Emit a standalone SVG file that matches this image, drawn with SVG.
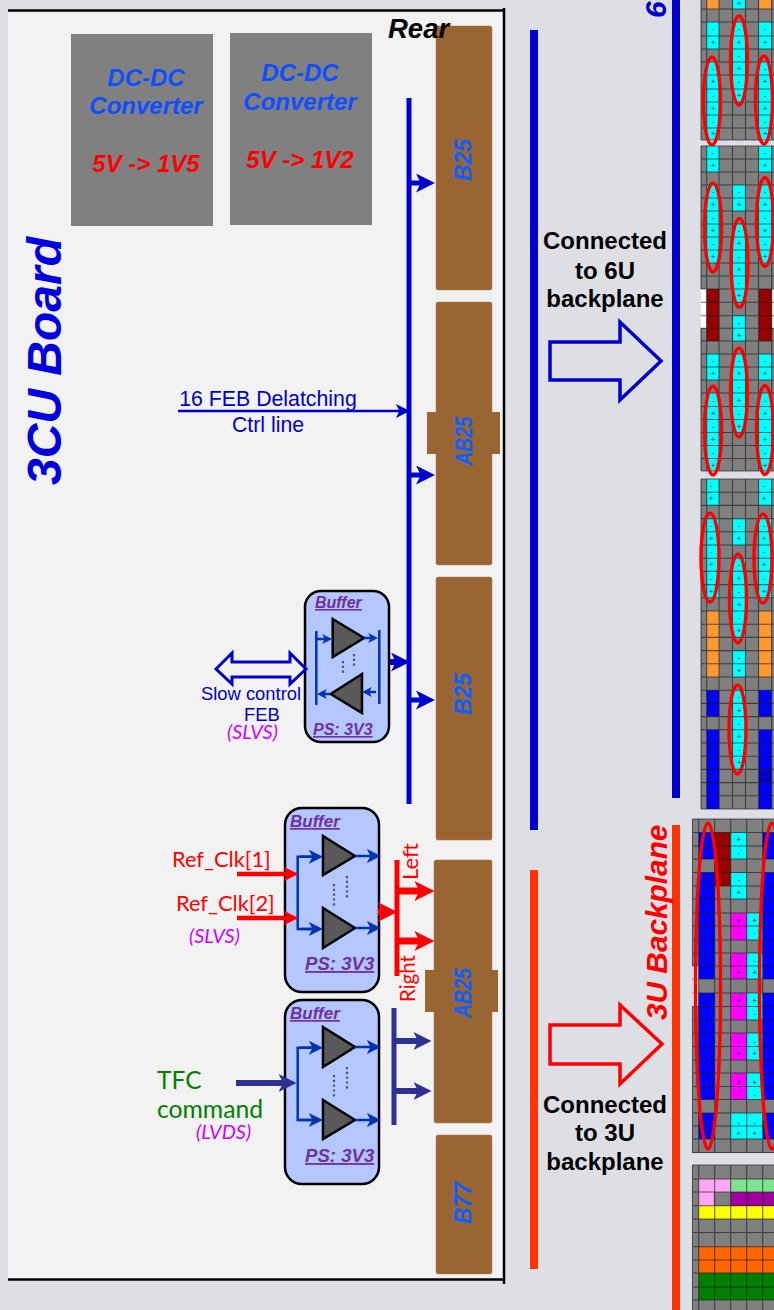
<svg xmlns="http://www.w3.org/2000/svg" width="774" height="1310" viewBox="0 0 774 1310">
<style>
text{font-family:"Liberation Sans",Arial,sans-serif}
.bi{font-weight:bold;font-style:italic}
.conv{fill:#0f4fff;font-size:24px;text-anchor:middle}
.volt{fill:#ff0000;font-size:24px;text-anchor:middle}
.conn{fill:#996633;stroke:#a87a4a;stroke-width:.5}
.cl{fill:#0f5fff;font-size:23px;text-anchor:middle}
.conv-box{fill:#808080}
.buf{fill:#b4c7ff;stroke:#000;stroke-width:2.5}
.bt{fill:#7030a0;font-size:16px;text-decoration:underline}
.bt2{fill:#7030a0;font-size:17px;text-decoration:underline}
.ps{fill:#7030a0;font-size:16px;text-decoration:underline}
.ps2{fill:#7030a0;font-size:18.600px;text-decoration:underline}
.tri{fill:#595959;stroke:#000;stroke-width:2.5;stroke-linejoin:miter}
.dots{stroke:#555;stroke-width:2.2;stroke-dasharray:2.2 2.6;fill:none}
.sig{stroke:#0033b0;stroke-width:2.5;fill:none}
.bl{stroke:#0000cc;stroke-width:5;fill:none}
.rd{stroke:#ff0000;fill:none}
.nv{stroke:#2e3192;fill:none}
.cal{font-family:Lato,"Liberation Sans",sans-serif}
.sl{font-family:Lato,"Liberation Sans",sans-serif;font-style:italic;fill:#cc00ff;font-size:20px}
.big{font-weight:bold;font-size:24px;text-anchor:middle;fill:#000}
.grid{stroke:#1a1a1a;stroke-opacity:.65;stroke-width:1.1;fill:none}
.oval{fill:none;stroke:#ff0000;stroke-width:3.4}
.c{fill:#00ffff}.o{fill:#ff9933}.b{fill:#0000ff}.r{fill:#990000}.m{fill:#ff00ff}
.s{font-size:8px;fill:#123;text-anchor:middle}
</style>
<defs>
<marker id="bb" viewBox="0 0 10 10" refX="5.8" refY="5" markerWidth="19" markerHeight="19" markerUnits="userSpaceOnUse" orient="auto"><path d="M0 0L10 5L0 10L2.5 5Z" fill="#0000cc"/></marker>
<marker id="bm" viewBox="0 0 10 10" refX="5.8" refY="5" markerWidth="14" markerHeight="14" markerUnits="userSpaceOnUse" orient="auto"><path d="M0 0L10 5L0 10L2.5 5Z" fill="#0000cc"/></marker>
<marker id="rb" viewBox="0 0 10 10" refX="5.8" refY="5" markerWidth="20" markerHeight="20" markerUnits="userSpaceOnUse" orient="auto"><path d="M0 0L10 5L0 10L2.5 5Z" fill="#ff0000"/></marker>
<marker id="rm" viewBox="0 0 10 10" refX="5.8" refY="5" markerWidth="15" markerHeight="15" markerUnits="userSpaceOnUse" orient="auto"><path d="M0 0L10 5L0 10L2.5 5Z" fill="#ff0000"/></marker>
<marker id="nb" viewBox="0 0 10 10" refX="5.8" refY="5" markerWidth="18" markerHeight="18" markerUnits="userSpaceOnUse" orient="auto"><path d="M0 0L10 5L0 10L2.5 5Z" fill="#2e3192"/></marker>
<marker id="sm" viewBox="0 0 10 10" refX="5.8" refY="5" markerWidth="14" markerHeight="14" markerUnits="userSpaceOnUse" orient="auto"><path d="M0 0L10 5L0 10L2.5 5Z" fill="#0033b0"/></marker>
<marker id="ss" viewBox="0 0 10 10" refX="5.8" refY="5" markerWidth="10" markerHeight="10" markerUnits="userSpaceOnUse" orient="auto"><path d="M0 0L10 5L0 10L2.5 5Z" fill="#0033b0"/></marker>
</defs>

<rect id="background" width="774" height="1310" fill="#dedfe4"/>
<g id="board">
<rect x="8" y="11" width="495" height="1268" fill="#f2f2f2"/>
<path d="M8 10.5H503.500M504 8V1284M8 1279.500H504" fill="none" stroke="#000" stroke-width="2.5"/>
<text class="bi" transform="translate(61 485) rotate(-90)" font-size="48" fill="#0000e0">3CU Board</text>
</g>

<g id="connector-b25-1"><rect class="conn" x="436" y="26" width="56" height="264" rx="2"/><text class="bi cl" transform="translate(471 160) rotate(-90)">B25</text></g>
<g id="connector-ab25-1"><rect class="conn" x="436" y="302" width="56" height="263" rx="2"/><rect x="427" y="412" width="73" height="42" fill="#996633"/><text class="bi cl" transform="translate(472 441) rotate(-90)" textLength="49" lengthAdjust="spacingAndGlyphs">AB25</text></g>
<g id="connector-b25-2"><rect class="conn" x="436" y="577" width="56" height="263" rx="2"/><text class="bi cl" transform="translate(471 694) rotate(-90)">B25</text></g>
<g id="connector-ab25-2"><rect class="conn" x="434" y="860" width="58" height="263" rx="2"/><rect x="425" y="970" width="73" height="42" fill="#996633"/><text class="bi cl" transform="translate(471 993) rotate(-90)" textLength="50" lengthAdjust="spacingAndGlyphs">AB25</text></g>
<g id="connector-b77"><rect class="conn" x="436" y="1135" width="56" height="139" rx="2"/><text class="bi cl" transform="translate(471 1203) rotate(-90)">B77</text></g>
<text id="rear-label" class="bi" x="388" y="38" font-size="27.500" fill="#000">Rear</text>

<g id="dcdc-1"><rect class="conv-box" x="71" y="34" width="142" height="192"/><text class="bi conv" x="146" y="86">DC-DC</text><text class="bi conv" x="146" y="114">Converter</text><text class="bi volt" x="146" y="172">5V -&gt; 1V5</text></g>
<g id="dcdc-2"><rect class="conv-box" x="230" y="33" width="142" height="192"/><text class="bi conv" x="300" y="81">DC-DC</text><text class="bi conv" x="300" y="110">Converter</text><text class="bi volt" x="300" y="168">5V -&gt; 1V2</text></g>

<g id="buffer-slow">
<rect class="buf" x="305" y="591" width="84" height="151" rx="16"/>
<text class="bi bt" x="315" y="608">Buffer</text>
<text class="bi ps" x="313" y="735">PS: 3V3</text>
<path class="tri" d="M332.700 619L364 638L332.700 657Z"/>
<path class="tri" d="M362 674L330.700 694L362 713Z"/>
<path class="dots" d="M343 661V673M354 654V667"/>
<path class="sig" d="M316.300 631V705M379.300 630V704"/>
<line class="sig" x1="317" y1="639" x2="328" y2="639" marker-end="url(#ss)"/>
<line class="sig" x1="364" y1="638" x2="374" y2="638" marker-end="url(#ss)"/>
<line class="sig" x1="376" y1="692" x2="366" y2="692" marker-end="url(#ss)"/>
<line class="sig" x1="330" y1="694" x2="321" y2="694" marker-end="url(#ss)"/>
</g>
<g id="buffer-refclk">
<rect class="buf" x="285" y="808" width="94" height="184" rx="17"/>
<text class="bi bt2" x="290" y="827">Buffer</text>
<text class="bi ps2" x="305" y="970">PS: 3V3</text>
<path class="tri" d="M323 836L355 856L323 875Z"/>
<path class="tri" d="M323 908L355 928L323 948Z"/>
<path class="dots" d="M334 884V906M347 876V898"/>
<path class="sig" d="M317 856.700H297.700V929H317"/>
<line class="sig" x1="300" y1="856.700" x2="317" y2="856.700" marker-end="url(#sm)"/>
<line class="sig" x1="300" y1="929" x2="317" y2="929" marker-end="url(#sm)"/>
<line class="sig" x1="355" y1="856" x2="375" y2="856" marker-end="url(#sm)"/>
<line class="sig" x1="355" y1="928" x2="375" y2="928" marker-end="url(#sm)"/>
</g>
<g id="buffer-tfc">
<rect class="buf" x="285" y="1000" width="94" height="184" rx="17"/>
<text class="bi bt2" x="290" y="1019">Buffer</text>
<text class="bi ps2" x="305" y="1162">PS: 3V3</text>
<path class="tri" d="M323 1027L355 1047L323 1067Z"/>
<path class="tri" d="M323 1100L355 1120L323 1139Z"/>
<path class="dots" d="M334 1075V1097M347 1067V1089"/>
<path class="sig" d="M317 1047.700H297.700V1120H317"/>
<line class="sig" x1="300" y1="1047.700" x2="317" y2="1047.700" marker-end="url(#sm)"/>
<line class="sig" x1="300" y1="1120" x2="317" y2="1120" marker-end="url(#sm)"/>
<line class="sig" x1="355" y1="1047" x2="375" y2="1047" marker-end="url(#sm)"/>
<line class="sig" x1="355" y1="1120" x2="375" y2="1120" marker-end="url(#sm)"/>
</g>

<g id="connectors">
<line class="bl" x1="409" y1="98" x2="409" y2="804"/>
<line class="bl" x1="409" y1="183" x2="427" y2="183" marker-end="url(#bb)"/>
<line class="bl" x1="409" y1="475" x2="427" y2="475" marker-end="url(#bb)"/>
<line class="bl" x1="409" y1="700" x2="427" y2="700" marker-end="url(#bb)"/>
<line class="bl" style="stroke-width:6" x1="390" y1="662" x2="402" y2="662" marker-end="url(#bb)"/>
<line x1="178" y1="411" x2="404" y2="411" stroke="#0000cc" stroke-width="2.500" marker-end="url(#bm)"/>
<path d="M216 669L232 653V662H290V653L306 669L290 684V677H232V684Z" fill="none" stroke="#0000cc" stroke-width="3"/>
<line class="rd" stroke-width="4.500" x1="237" y1="874" x2="292" y2="874" marker-end="url(#rm)"/>
<line class="rd" stroke-width="4.500" x1="237" y1="918" x2="292" y2="918" marker-end="url(#rm)"/>
<line class="rd" stroke-width="7" x1="378" y1="912" x2="389" y2="912" marker-end="url(#rb)"/>
<line class="rd" stroke-width="5" x1="397" y1="860" x2="397" y2="976"/>
<line class="rd" stroke-width="7" x1="397" y1="891" x2="426" y2="891" marker-end="url(#rb)"/>
<line class="rd" stroke-width="7" x1="397" y1="941" x2="426" y2="941" marker-end="url(#rb)"/>
<line class="nv" stroke-width="6" x1="236" y1="1083" x2="289" y2="1083" marker-end="url(#nb)"/>
<line class="nv" stroke-width="5" x1="394" y1="1008" x2="394" y2="1125"/>
<line class="nv" stroke-width="6" x1="394" y1="1041" x2="424" y2="1041" marker-end="url(#nb)"/>
<line class="nv" stroke-width="6" x1="394" y1="1091" x2="424" y2="1091" marker-end="url(#nb)"/>
<rect x="530" y="30" width="8" height="800" fill="#0000cc"/>
<rect x="530" y="870" width="8" height="399" fill="#ff3300"/>
<rect x="672" y="0" width="8" height="798" fill="#0000cc"/>
<rect x="672" y="825" width="8" height="485" fill="#ff3300"/>
<path d="M550 342H620V322L661 361L620 400V380H550Z" fill="none" stroke="#0000cc" stroke-width="3.500"/>
<path d="M550 1025H620V1005L662 1044L620 1084V1064H550Z" fill="none" stroke="#ff0000" stroke-width="3.500"/>
</g>

<g id="labels">
<text x="268" y="406" font-size="21.300" fill="#0000cc" text-anchor="middle">16 FEB Delatching</text>
<text x="268" y="432" font-size="21.300" fill="#0000cc" text-anchor="middle">Ctrl line</text>
<text x="251" y="700" font-size="18.400" fill="#0000cc" text-anchor="middle">Slow control</text>
<text x="262" y="721" font-size="18.400" fill="#0000cc" text-anchor="middle">FEB</text>
<text class="sl" x="227" y="739">(SLVS)</text>
<text class="cal" x="172" y="867" font-size="21.800" fill="#ff0000">Ref_Clk[1]</text>
<text class="cal" x="176" y="911" font-size="21.800" fill="#ff0000">Ref_Clk[2]</text>
<text class="sl" x="189" y="943">(SLVS)</text>
<text class="cal" transform="translate(418 880) rotate(-90)" font-size="22" fill="#ff0000">Left</text>
<text class="cal" transform="translate(415 1002) rotate(-90)" font-size="20.500" fill="#ff0000">Right</text>
<text class="cal" x="157" y="1089" font-size="24.500" fill="#008000">TFC</text>
<text class="cal" x="157" y="1118" font-size="24.700" fill="#008000">command</text>
<text class="sl" x="196" y="1139">(LVDS)</text>
<text class="big" x="605" y="249">Connected</text>
<text class="big" x="605" y="279">to 6U</text>
<text class="big" x="605" y="307">backplane</text>
<text class="big" x="605" y="1113">Connected</text>
<text class="big" x="605" y="1141">to 3U</text>
<text class="big" x="605" y="1170">backplane</text>
<text class="bi" transform="translate(666 18) rotate(-90)" font-size="30" fill="#0000cc">6</text>
<text class="bi" transform="translate(667 1020) rotate(-90)" font-size="29.800" fill="#ff0000">3U Backplane</text>
</g>

<g id="panel-6u-a">
<rect x="701" y="0" width="73" height="140" fill="#808080"/>
<rect class="o" x="706.700" y="0" width="12.500" height="9"/><rect class="o" x="759" y="0" width="12.700" height="9"/>
<path class="c" d="M706.700 22h12.500v27h-12.500zM706.700 62h12.500v78h-12.500zM759 22h12.700v27h-12.700zM759 62h12.700v78h-12.700zM733 0h12.500v9h-12.500zM733 22h12.500v80h-12.500z"/>
<path class="grid" d="M701 9H774M701 22H774M701 36H774M701 49H774M701 62H774M701 75H774M701 89H774M701 102H774M701 115H774M701 128H774M701 140H774M701 0V140M706.700 0V140M719 0V140M732.500 0V140M745.500 0V140M758.500 0V140M771.700 0V140"/>
<text class="s" x="713 713 713 713 713 713 713 713" y="31 44.500 70.500 84 97.500 110.500 123.500 136">-+-+-+-+</text>
<text class="s" x="739 739 739 739 739 739 739" y="6 31 44.500 57.500 70.500 84 97.500">+-+-+-+</text>
<text class="s" x="765 765 765 765 765 765 765 765" y="31 44.500 70.500 84 97.500 110.500 123.500 136">-+-+-+-+</text>
<ellipse class="oval" cx="712" cy="101" rx="8.500" ry="44"/><ellipse class="oval" cx="739" cy="60.500" rx="8.500" ry="44.500"/><ellipse class="oval" cx="764" cy="100" rx="8.500" ry="44"/>
</g>

<g id="panel-6u-b">
<rect x="701" y="146" width="73" height="325" fill="#808080"/>
<rect x="701" y="289" width="5.700" height="39" fill="#fff"/><rect x="771.700" y="289" width="2.300" height="39" fill="#fff"/>
<path class="r" d="M706.700 289h12.500v52h-12.500zM759 289h12.700v52h-12.700z"/>
<path class="c" d="M706.700 146h12.500v26h-12.500zM706.700 185h12.500v78h-12.500zM706.700 354h12.500v26h-12.500zM706.700 393h12.500v78h-12.500zM759 146h12.700v26h-12.700zM759 185h12.700v78h-12.700zM759 354h12.700v26h-12.700zM759 393h12.700v78h-12.700zM733 185h12.500v26h-12.500zM733 224h12.500v78h-12.500zM733 316h12.500v25h-12.500zM733 354h12.500v79h-12.500z"/>
<path class="grid" d="M701 146H774M701 159H774M701 172H774M701 185H774M701 198H774M701 211H774M701 224H774M701 237H774M701 250H774M701 263H774M701 276H774M701 289H774M701 302.300H774M701 315.700H774M701 328.300H774M701 341H774M701 354H774M701 367H774M701 380H774M701 393H774M701 406.500H774M701 419.500H774M701 432.500H774M701 445.500H774M701 458.500H774M701 471H774M701 146V289M701 328V471M706.700 146V471M719 146V471M732.500 146V471M745.500 146V471M758.500 146V471M771.700 146V471"/>
<text class="s" x="713 713 713 713 713 713 713 713 713 713 713 713 713 713 713 713" y="155 168 194 207 220 233 246 259 363 376 402.500 415.500 428.500 441.500 454.500 467.500">-+-+-+-+-+-+-+-+</text>
<text class="s" x="765 765 765 765 765 765 765 765 765 765 765 765 765 765 765 765" y="155 168 194 207 220 233 246 259 363 376 402.500 415.500 428.500 441.500 454.500 467.500">-+-+-+-+-+-+-+-+</text>
<text class="s" x="739 739 739 739 739 739 739 739 739 739 739 739 739 739 739 739" y="194 207 233 246 259 272 285 298 324.500 337.500 363 376 389 402.500 415.500 428.500">-+-+-+-+-+-+-+-+</text>
<ellipse class="oval" cx="713" cy="227.500" rx="8.500" ry="44.500"/><ellipse class="oval" cx="739.500" cy="263" rx="8.500" ry="44.500"/><ellipse class="oval" cx="765" cy="222" rx="8.500" ry="44.500"/>
<ellipse class="oval" cx="739" cy="392.500" rx="8.500" ry="44.500"/><ellipse class="oval" cx="713" cy="430.500" rx="8.500" ry="44.500"/><ellipse class="oval" cx="765" cy="430" rx="8.500" ry="44.500"/>
</g>

<g id="panel-6u-c">
<rect x="701" y="479" width="73" height="330" fill="#808080"/>
<path class="o" d="M706.700 611h12.500v66h-12.500zM759 611h12.700v66h-12.700z"/>
<path class="b" d="M706.700 690.200h12.500v26.400h-12.500zM706.700 729.800h12.500v79.200h-12.500zM759 690.200h12.700v26.400h-12.700zM759 729.800h12.700v79.200h-12.700z"/>
<rect x="759" y="770" width="12.700" height="13" fill="#0000cc"/>
<path class="c" d="M706.700 479h12.500v26.400h-12.500zM706.700 518.600h12.500v79.200h-12.500zM759 479h12.700v26.400h-12.700zM759 518.600h12.700v79.200h-12.700zM733 518.600h12.500v26.400h-12.500zM733 558.200h12.500v79.200h-12.500zM733 650.600h12.500v26.400h-12.500zM733 690.200h12.500v79.200h-12.500z"/>
<path class="grid" d="M701 479H774M701 492.200H774M701 505.400H774M701 518.600H774M701 531.800H774M701 545H774M701 558.200H774M701 571.400H774M701 584.600H774M701 597.800H774M701 611H774M701 624.200H774M701 637.400H774M701 650.600H774M701 663.800H774M701 677H774M701 690.200H774M701 703.400H774M701 716.600H774M701 729.800H774M701 743H774M701 756.200H774M701 769.400H774M701 782.600H774M701 795.800H774M701 809H774M701 479V809M706.700 479V809M719 479V809M732.500 479V809M745.500 479V809M758.500 479V809M771.700 479V809"/>
<text class="s" x="711 711 711 711 711 711 711 711" y="488 501.200 527.800 541 554.200 567.400 580.600 593.800">-+-+-+-+</text>
<text class="s" x="764 764 764 764 764 764 764 764" y="488 501.200 527.800 541 554.200 567.400 580.600 593.800">-+-+-+-+</text>
<text class="s" x="739 739 739 739 739 739 739 739 739 739 739 739 739 739 739 739" y="527.800 541 567.400 580.600 593.800 607 620.200 633.400 659.800 673 699.400 712.600 725.800 739 752.200 765.400">-+-+-+-+-+-+-+-+</text>
<text class="s" x="711 711 711 711 711 711 711 711" y="699.400 712.600 739 752.200 765.400 778.600 791.800 805">-+-+-+-+</text>
<text class="s" x="764 764 764 764 764 764 764 764" y="699.400 712.600 739 752.200 765.400 778.600 791.800 805">-+-+-+-+</text>
<ellipse class="oval" cx="710" cy="557.500" rx="9" ry="44.500"/><ellipse class="oval" cx="763" cy="558.500" rx="9" ry="44.500"/><ellipse class="oval" cx="738" cy="598.500" rx="8.500" ry="44.500"/><ellipse class="oval" cx="737.500" cy="729.500" rx="8.500" ry="44.500"/>
</g>

<g id="panel-3u-a">
<rect x="692.500" y="819" width="81.500" height="334" fill="#808080"/>
<rect x="692.500" y="966" width="6" height="40" fill="#fff"/>
<path class="b" d="M698.700 832.500h16v26.500h-16zM698.700 872.500h16v106.500h-16zM698.700 993h16v106.500h-16zM698.700 1113h16v26h-16zM762.700 832.500h11.300v26.500h-11.300zM762.700 872.500h11.300v106.500h-11.300zM762.700 993h11.300v106.500h-11.300zM762.700 1113h11.300v26h-11.300z"/>
<rect class="r" x="714.700" y="832.500" width="16" height="53.500"/>
<path class="c" d="M730.700 832.500h16v26.500h-16zM730.700 873h16v26h-16zM746.700 913h16v27h-16zM746.700 953h16v26h-16zM746.700 993h16v27h-16zM746.700 1033h16v27h-16zM746.700 1073h16v26.500h-16zM730.700 1113h32v26h-32z"/>
<path class="m" d="M730.700 913h16v27h-16zM730.700 953h16v26h-16zM730.700 993h16v27h-16zM730.700 1033h16v27h-16zM730.700 1073h16v26.500h-16z"/>
<path class="grid" d="M692.500 819H774M692.500 832.500H774M692.500 846H774M692.500 859H774M692.500 872.500H774M692.500 886H774M692.500 899H774M692.500 913H774M692.500 926H774M692.500 940H774M692.500 953H774M692.500 966H774M692.500 979H774M692.500 993H774M692.500 1006.500H774M692.500 1020H774M692.500 1033H774M692.500 1046.500H774M692.500 1060H774M692.500 1073H774M692.500 1086.500H774M692.500 1099.500H774M692.500 1113H774M692.500 1126H774M692.500 1139H774M692.500 1152.500H774M692.500 819V966M692.500 1006V1153M698.700 819V1153M714.700 819V1153M730.700 819V1153M746.700 819V1153M762.700 819V1153"/>
<text class="s" x="705 705 705 705 705 705 705 705 705 705 705 705 705 705 705 705 705 705" y="842 855 881 894 908 922 936 948 962 975 1004 1016 1031 1044 1055 1069 1083 1124">+-+-+-+-+-+-+-+-++</text>
<text class="s" x="738.700 738.700 738.700 738.700 738.700 738.700 738.700 738.700 738.700 738.700 738.700 738.700 738.700 738.700" y="842 855 882 895 923 935 963 975 1003 1016 1044 1056 1085 1097">+--++--++--++-</text>
<text class="s" x="754.700 754.700 754.700 754.700 754.700 754.700 754.700 754.700 754.700 754.700" y="923 935 963 975 1003 1016 1044 1056 1085 1097">+--++--++-</text>
<text class="s" x="738.700 738.700" y="1125 1136">-+</text>
<text class="s" x="754.700 754.700" y="1125 1136">-+</text>
<ellipse class="oval" cx="708" cy="986" rx="12.500" ry="163"/><ellipse class="oval" cx="772" cy="986" rx="12.500" ry="163"/>
</g>

<g id="panel-3u-b">
<rect x="692.500" y="1165" width="81.500" height="145" fill="#808080"/>
<rect x="698.700" y="1179" width="32" height="13" fill="#ffa6f5"/><rect x="698.700" y="1192" width="15" height="14" fill="#ffa6f5"/>
<rect x="730.700" y="1179" width="43.300" height="13" fill="#80e38f"/>
<rect x="730.700" y="1192" width="43.300" height="14" fill="#a000a0"/>
<rect x="698.700" y="1206" width="75.300" height="13" fill="#ffff00"/>
<rect x="698.700" y="1246.700" width="75.300" height="26.300" fill="#ff6600"/>
<rect x="698.700" y="1273" width="75.300" height="27" fill="#008000"/>
<path class="grid" d="M692.500 1165H774M692.500 1179H774M692.500 1192H774M692.500 1205.700H774M692.500 1219H774M692.500 1232.500H774M692.500 1246.700H774M692.500 1260H774M692.500 1273H774M692.500 1287H774M692.500 1300H774M692.500 1165V1310M698.700 1165V1310M714.700 1165V1310M730.700 1165V1310M746.700 1165V1310M762.700 1165V1310"/>
</g>
</svg>
